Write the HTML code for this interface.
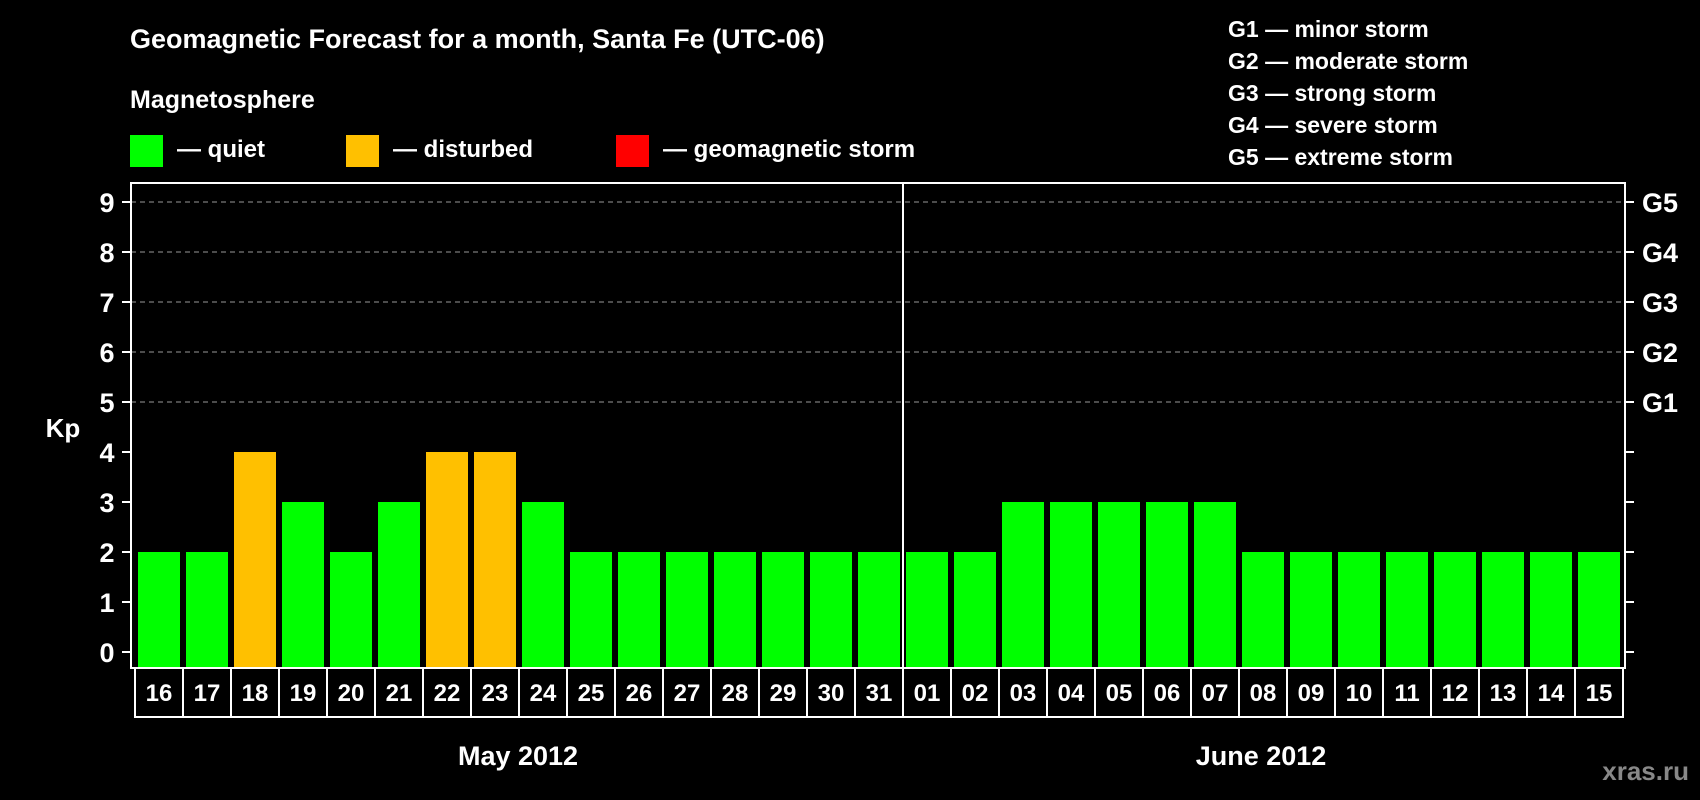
<!DOCTYPE html>
<html><head><meta charset="utf-8"><style>
html,body{margin:0;padding:0;background:#000;}
svg{display:block;font-family:"Liberation Sans",Arial,sans-serif;font-weight:bold;}
</style></head><body>
<svg id="chart" width="1700" height="800" viewBox="0 0 1700 800">
<rect x="0" y="0" width="1700" height="800" fill="#000"/>
<text x="130" y="48" font-size="27" fill="#fff">Geomagnetic Forecast for a month, Santa Fe (UTC-06)</text>
<text x="130" y="108" font-size="25" fill="#fff">Magnetosphere</text>
<g><rect x="130" y="135" width="33" height="32" fill="#00ff00"/><text x="177" y="157" font-size="24" fill="#fff">— quiet</text></g>
<g><rect x="346" y="135" width="33" height="32" fill="#ffc000"/><text x="393" y="157" font-size="24" fill="#fff">— disturbed</text></g>
<g><rect x="616" y="135" width="33" height="32" fill="#ff0000"/><text x="663" y="157" font-size="24" fill="#fff">— geomagnetic storm</text></g>
<g font-size="23" fill="#fff">
<text x="1228" y="37">G1 — minor storm</text>
<text x="1228" y="69">G2 — moderate storm</text>
<text x="1228" y="101">G3 — strong storm</text>
<text x="1228" y="133">G4 — severe storm</text>
<text x="1228" y="165">G5 — extreme storm</text>
</g>
<text x="63" y="437" font-size="26" fill="#fff" text-anchor="middle">Kp</text>
<g id="plot"></g>
<text x="518" y="765" font-size="27" fill="#fff" text-anchor="middle">May 2012</text>
<text x="1261" y="765" font-size="27" fill="#fff" text-anchor="middle">June 2012</text>
<text x="1689" y="780" font-size="26" fill="#888" text-anchor="end">xras.ru</text>
</svg>
<script>
const days = ["16","17","18","19","20","21","22","23","24","25","26","27","28","29","30","31","01","02","03","04","05","06","07","08","09","10","11","12","13","14","15"];
const kpValues = [2,2,4,3,2,3,4,4,3,2,2,2,2,2,2,2,2,2,3,3,3,3,3,2,2,2,2,2,2,2,2];
const yTicks = [0,1,2,3,4,5,6,7,8,9];
const gLabels = ["","","","","","G1","G2","G3","G4","G5"];
const monthSplitIndex = 16;

const NS = "http://www.w3.org/2000/svg";
const g = document.getElementById('plot');
const L = 131, R = 1625, T = 183, B = 668;
const y0 = 652, unit = 50;
const y = v => y0 - v * unit;
const pitch = 48, x0 = 138, bw = 42;
const x = i => x0 + i * pitch;
function mk(tag, attrs) { const e = document.createElementNS(NS, tag); for (const k in attrs) e.setAttribute(k, attrs[k]); g.appendChild(e); return e; }

yTicks.forEach(v => {
  if (v >= 5) {
    const gl = mk('line', {x1: L, x2: R, y1: y(v), y2: y(v), stroke: '#999', 'stroke-width': 1, 'stroke-dasharray': '5,4'});
    
    
  }
  const tl = mk('line', {x1: L - 9, x2: L, y1: y(v), y2: y(v), stroke: '#fff', 'stroke-width': 2});
  
  
  const tr = mk('line', {x1: R, x2: R + 9, y1: y(v), y2: y(v), stroke: '#fff', 'stroke-width': 2});
  
  
  const t = mk('text', {x: 107, y: y(v) + 10, 'font-size': 27, fill: '#fff', 'text-anchor': 'middle'});
  t.textContent = v;
  
  
  if (gLabels[v]) {
    const gt = mk('text', {x: 1642, y: y(v) + 10, 'font-size': 27, fill: '#fff'});
    gt.textContent = gLabels[v];
    
    
  }
});

kpValues.forEach((v, i) => {
  const col = v >= 5 ? '#ff0000' : (v >= 4 ? '#ffc000' : '#00ff00');
  const r = mk('rect', {x: x(i), y: y(v), width: bw, height: B - 1 - y(v), fill: col});
  
  
});

const divX = x(monthSplitIndex) - 3;
const dv = mk('line', {x1: divX, x2: divX, y1: T, y2: 717, stroke: '#fff', 'stroke-width': 2});



const frame = mk('rect', {x: L, y: T, width: R - L, height: B - T, fill: 'none', stroke: '#fff', 'stroke-width': 2});



days.forEach((d, i) => {
  const cx = x(i) - 3;
  const vl = mk('line', {x1: cx, x2: cx, y1: B, y2: 717, stroke: '#fff', 'stroke-width': 2});
  
  
  const t = mk('text', {x: x(i) + bw / 2, y: 701, 'font-size': 24, fill: '#fff', 'text-anchor': 'middle'});
  t.textContent = d;
  
  
});
const lastX = x(days.length) - 3;
const vl2 = mk('line', {x1: lastX, x2: lastX, y1: B, y2: 717, stroke: '#fff', 'stroke-width': 2});


const bl = mk('line', {x1: x(0) - 4, x2: lastX + 1, y1: 717, y2: 717, stroke: '#fff', 'stroke-width': 2});


</script>
</body></html>
